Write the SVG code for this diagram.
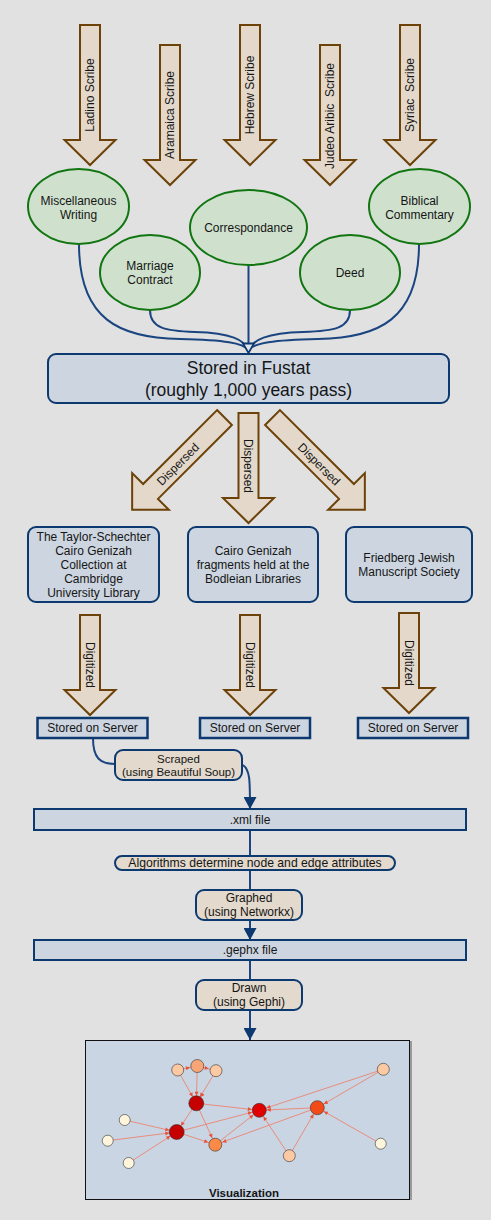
<svg xmlns="http://www.w3.org/2000/svg" width="491" height="1220" viewBox="0 0 491 1220">
<style>
text { font-family: "Liberation Sans", Arial, sans-serif; fill: #151515; text-anchor: middle; }
.f12 { font-size: 12px; }
.f11 { font-size: 11.5px; }
.big { font-size: 17.5px; }
.arw { fill: #e3d8ca; stroke: #6c4208; stroke-width: 2; stroke-linejoin: miter; }
.ell { fill: #cfe1cd; stroke: #117511; stroke-width: 2; }
.box { fill: #cdd5e1; stroke: #0c3a70; stroke-width: 2; }
.srv { fill: #cdd5e1; stroke: #0c3a70; stroke-width: 2.5; }
.tan { fill: #e3d9cc; stroke: #0c3a70; stroke-width: 2; }
.conn { fill: none; stroke: #1b4580; stroke-width: 2; }
.ve { fill: none; stroke: #f07a62; stroke-width: 0.8; }
.vn { stroke: #333; stroke-width: 0.6; }
</style>
<defs>
<marker id="ah" markerUnits="userSpaceOnUse" markerWidth="12" markerHeight="13" viewBox="0 0 11 12" refX="11" refY="6" orient="auto">
<path d="M0,0 L11,6 L0,12 z" fill="#0c3a70"/>
</marker>
<marker id="va" markerUnits="userSpaceOnUse" markerWidth="20" markerHeight="20" viewBox="0 0 20 20" refX="11.5" refY="2" orient="auto" overflow="visible">
<path d="M0,0 L4,2 L0,4 z" fill="#e8503a"/>
</marker>
</defs>
<rect x="0" y="0" width="491" height="1220" fill="#e1e1e1"/>

<g id="scribe-arrows">
<g id="ladino"><path class="arw" d="M80 25 H100 V140 H115.5 L90 165 L64.5 140 H80 Z"/><text class="f12" transform="translate(90,95) rotate(-90)" y="4.3">Ladino Scribe</text></g>
<g id="aramaica"><path class="arw" d="M160 45 H180 V160 H195.5 L170 185 L144.5 160 H160 Z"/><text class="f12" transform="translate(170,115) rotate(-90)" y="4.3">Aramaica Scribe</text></g>
<g id="hebrew"><path class="arw" d="M240 25 H260 V140 H275.5 L250 165 L224.5 140 H240 Z"/><text class="f12" transform="translate(250,95) rotate(-90)" y="4.3">Hebrew Scribe</text></g>
<g id="judeo"><path class="arw" d="M320 45 H340 V160 H355.5 L330 185 L304.5 160 H320 Z"/><text class="f12" transform="translate(330,116) rotate(-90)" y="4.3" xml:space="preserve">Judeo Aribic  Scribe</text></g>
<g id="syriac"><path class="arw" d="M400 25 H420 V140 H435.5 L410 165 L384.5 140 H400 Z"/><text class="f12" transform="translate(410,95) rotate(-90)" y="4.3" xml:space="preserve">Syriac  Scribe</text></g>
</g>

<g id="connectors">
<path class="conn" d="M79 244 C79 320, 120 338, 180 339 C225 340, 243 343, 248.5 350"/>
<path class="conn" d="M150 310 C150 328, 165 331, 195 332 C232 333, 244 340, 248.5 350"/>
<path class="conn" d="M350 310 C350 328, 335 331, 303 332 C266 333, 253 340, 248.5 350"/>
<path class="conn" d="M419 244 C419 320, 378 338, 318 339 C273 340, 254 343, 248.5 350"/>
<path class="conn" d="M248.5 265 V345" stroke-width="2.5"/>
<polygon points="243,343.5 254,343.5 248.5,353" fill="#dfe3ea" stroke="#0c3a70" stroke-width="1.8"/>
<path class="conn" d="M93 738 C93 758, 100 764, 115 764"/>
<path class="conn" d="M243 765 C250 770, 250 780, 250 809" marker-end="url(#ah)"/>
<path class="conn" d="M250 830 V856"/>
<path class="conn" d="M250 870 V890"/>
<path class="conn" d="M250 920 V940" marker-end="url(#ah)"/>
<path class="conn" d="M250 960 V980"/>
<path class="conn" d="M250 1010 V1040" marker-end="url(#ah)"/>
</g>

<g id="misc"><ellipse class="ell" cx="78.5" cy="206.5" rx="50.5" ry="37.5"/><text class="f12" x="78.5" y="205.3">Miscellaneous</text><text class="f12" x="78.5" y="218.6">Writing</text></g>
<g id="marriage"><ellipse class="ell" cx="150" cy="272.5" rx="50" ry="37.5"/><text class="f12" x="150" y="270.3">Marriage</text><text class="f12" x="150" y="283.6">Contract</text></g>
<g id="correspondance"><ellipse class="ell" cx="248.5" cy="227.5" rx="58.5" ry="37.5"/><text class="f12" x="248.5" y="232">Correspondance</text></g>
<g id="deed"><ellipse class="ell" cx="350" cy="272.5" rx="50" ry="37.5"/><text class="f12" x="350" y="277">Deed</text></g>
<g id="biblical"><ellipse class="ell" cx="419.5" cy="206.5" rx="50.5" ry="37.5"/><text class="f12" x="419.5" y="205.3">Biblical</text><text class="f12" x="419.5" y="218.6">Commentary</text></g>

<g id="fustat"><rect class="box" x="48" y="354" width="401" height="49" rx="8"/><text class="big" x="248.5" y="374">Stored in Fustat</text><text class="big" x="248.5" y="396">(roughly 1,000 years pass)</text></g>

<g id="dispersed-arrows">
<g id="disp-left" transform="translate(224.5,417.5) rotate(45)"><path class="arw" d="M-10.5 0 H10.5 V104.6 H26 L0 130.6 L-26 104.6 H-10.5 Z"/><text class="f12" transform="rotate(-90)" x="-66" y="4.3">Dispersed</text></g>
<g id="disp-center"><path class="arw" d="M238.5 413 H258.5 V498 H274 L248.5 523 L223 498 H238.5 Z"/><text class="f12" transform="translate(248.5,466) rotate(90)" y="4.3">Dispersed</text></g>
<g id="disp-right" transform="translate(272.5,417.5) rotate(-45)"><path class="arw" d="M-10.5 0 H10.5 V104.6 H26 L0 130.6 L-26 104.6 H-10.5 Z"/><text class="f12" transform="rotate(90)" x="66" y="4.3">Dispersed</text></g>
</g>

<g id="cambridge"><rect class="box" x="28" y="527" width="131" height="75" rx="8"/><text class="f12" x="93.5" y="541">The Taylor-Schechter</text><text class="f12" x="93.5" y="555">Cairo Genizah</text><text class="f12" x="93.5" y="569">Collection at</text><text class="f12" x="93.5" y="583">Cambridge</text><text class="f12" x="93.5" y="597">University Library</text></g>
<g id="bodleian"><rect class="box" x="188" y="527" width="130" height="75" rx="8"/><text class="f12" x="253" y="555">Cairo Genizah</text><text class="f12" x="253" y="569">fragments held at the</text><text class="f12" x="253" y="583">Bodleian Libraries</text></g>
<g id="friedberg"><rect class="box" x="346" y="527" width="126" height="75" rx="8"/><text class="f12" x="409" y="562">Friedberg Jewish</text><text class="f12" x="409" y="576">Manuscript Society</text></g>

<g id="digitized-arrows">
<g id="dig1"><path class="arw" d="M80 615 H100 V690 H115.5 L90 715 L64.5 690 H80 Z"/><text class="f12" transform="translate(90,665) rotate(90)" y="4.3">Digitized</text></g>
<g id="dig2"><path class="arw" d="M240 615 H260 V690 H275.5 L250 715 L224.5 690 H240 Z"/><text class="f12" transform="translate(250,665) rotate(90)" y="4.3">Digitized</text></g>
<g id="dig3"><path class="arw" d="M399 613 H419 V688 H434.5 L409 713 L383.5 688 H399 Z"/><text class="f12" transform="translate(409,663) rotate(90)" y="4.3">Digitized</text></g>
</g>

<g id="server1"><rect class="srv" x="37.5" y="718" width="110" height="20"/><text class="f12" x="92.5" y="732">Stored on Server</text></g>
<g id="server2"><rect class="srv" x="200" y="718" width="110" height="20"/><text class="f12" x="255" y="732">Stored on Server</text></g>
<g id="server3"><rect class="srv" x="358" y="718" width="110" height="20"/><text class="f12" x="413" y="732">Stored on Server</text></g>

<g id="scraped"><rect class="tan" x="115" y="750" width="127" height="30" rx="8"/><text class="f11" x="178.5" y="763">Scraped</text><text class="f11" x="178.5" y="776">(using Beautiful Soup)</text></g>
<g id="xml"><rect class="box" x="34" y="809" width="432" height="21"/><text class="f12" x="250" y="824">.xml file</text></g>
<g id="algorithms"><rect class="tan" x="115" y="856" width="280" height="14" rx="7"/><text x="255" y="867.3" style="font-size:12.2px">Algorithms determine node and edge attributes</text></g>
<g id="graphed"><rect class="tan" x="196" y="890" width="106" height="30" rx="8"/><text class="f12" x="249" y="902">Graphed</text><text class="f12" x="249" y="916">(using Networkx)</text></g>
<g id="gephx"><rect class="box" x="34" y="940" width="432" height="20"/><text class="f12" x="250" y="954">.gephx file</text></g>
<g id="drawn"><rect class="tan" x="196" y="980" width="106" height="30" rx="8"/><text class="f12" x="249" y="992">Drawn</text><text class="f12" x="249" y="1006">(using Gephi)</text></g>

<g id="visualization">
<rect x="410" y="1041" width="2" height="159" fill="#9a9a9a"/>
<rect x="85.5" y="1040.5" width="324" height="159" fill="#c9d5e3" stroke="#111" stroke-width="1"/>
<g id="vis-edges">
<path class="ve" d="M177.7 1070 L196.3 1103.3" marker-end="url(#va)"/>
<path class="ve" d="M197.3 1066 L196.3 1103.3" marker-end="url(#va)"/>
<path class="ve" d="M216 1070.7 L196.3 1103.3" marker-end="url(#va)"/>
<path class="ve" d="M177.7 1070 L197.3 1066" marker-end="url(#va)"/>
<path class="ve" d="M197.3 1066 L216 1070.7" marker-end="url(#va)"/>
<path class="ve" d="M196.3 1103.3 L259.3 1110.3" stroke="#d42a2a" stroke-width="1.2" marker-end="url(#va)"/>
<path class="ve" d="M196.3 1103.3 L176.7 1132" stroke="#d42a2a" marker-end="url(#va)" marker-start="url(#va)"/>
<path class="ve" d="M196.3 1103.3 L215.3 1144.7" stroke="#e84a3a" marker-end="url(#va)"/>
<path class="ve" d="M176.7 1132 L259.3 1110.3" stroke="#e04040" marker-end="url(#va)"/>
<path class="ve" d="M176.7 1132 L215.3 1144.7" stroke="#e84a3a" marker-end="url(#va)"/>
<path class="ve" d="M124.7 1120 L176.7 1132" marker-end="url(#va)"/>
<path class="ve" d="M107.7 1140.7 L176.7 1132" marker-end="url(#va)"/>
<path class="ve" d="M128.7 1163 L176.7 1132" marker-end="url(#va)"/>
<path class="ve" d="M215.3 1144.7 L259.3 1110.3" marker-end="url(#va)"/>
<path class="ve" d="M317.3 1107.7 L259.3 1110.3" stroke="#e84a3a" stroke-width="1.1" marker-end="url(#va)"/>
<path class="ve" d="M317.3 1107.7 L215.3 1144.7" marker-end="url(#va)"/>
<path class="ve" d="M383.3 1069.3 L259.3 1110.3" marker-end="url(#va)"/>
<path class="ve" d="M383.3 1069.3 L317.3 1107.7" marker-end="url(#va)"/>
<path class="ve" d="M289.3 1155.7 L259.3 1110.3" marker-end="url(#va)"/>
<path class="ve" d="M289.3 1155.7 L317.3 1107.7" marker-end="url(#va)"/>
<path class="ve" d="M380.7 1143.7 L317.3 1107.7" marker-end="url(#va)"/>
</g>
<g id="vis-nodes">
<circle class="vn" cx="177.7" cy="1070" r="6" fill="#fcc9a3"/>
<circle class="vn" cx="197.3" cy="1066" r="6.5" fill="#f8a678"/>
<circle class="vn" cx="216" cy="1070.7" r="6" fill="#fcc9a3"/>
<circle class="vn" cx="196.3" cy="1103.3" r="7.5" fill="#c40000"/>
<circle class="vn" cx="259.3" cy="1110.3" r="7" fill="#e00000"/>
<circle class="vn" cx="317.3" cy="1107.7" r="7" fill="#f44a18"/>
<circle class="vn" cx="383.3" cy="1069.3" r="6" fill="#fcc9a3"/>
<circle class="vn" cx="124.7" cy="1120" r="5.5" fill="#fef5dc"/>
<circle class="vn" cx="176.7" cy="1132" r="7.5" fill="#c40000"/>
<circle class="vn" cx="107.7" cy="1140.7" r="5.5" fill="#fef5dc"/>
<circle class="vn" cx="215.3" cy="1144.7" r="6.5" fill="#fa8a45"/>
<circle class="vn" cx="128.7" cy="1163" r="5.5" fill="#fef5dc"/>
<circle class="vn" cx="289.3" cy="1155.7" r="6" fill="#fcc9a3"/>
<circle class="vn" cx="380.7" cy="1143.7" r="5.5" fill="#fef5dc"/>
</g>
<text x="244" y="1197" style="font-size:11.5px;font-weight:bold;">Visualization</text>
</g>
</svg>
